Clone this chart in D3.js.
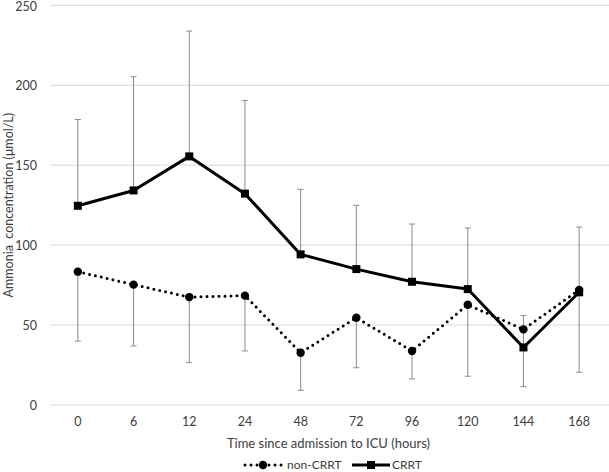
<!DOCTYPE html>
<html><head><meta charset="utf-8">
<script src="https://cdn.jsdelivr.net/npm/d3@7"></script>
<style>body{margin:0;background:#fff}svg{display:block}text{font-family:Lato,"Open Sans",sans-serif;fill:#404040}</style>
</head><body><svg id="c" width="609" height="472"></svg>
<script>
const categories = ["0","6","12","24","48","72","96","120","144","168"];
const crrtMean = [124.6,134.2,155.5,132.2,94.2,85,77.1,72.5,36,70.5];
const crrtUpper = [178.6,205.3,233.9,190.5,134.9,124.9,113.2,110.7,56,111.3];
const nonMean = [83.4,75.3,67.5,68.4,32.7,54.6,33.8,62.7,47.3,72];
const nonLower = [40,36.9,26.5,33.8,9.2,23.3,16.3,18,11.5,20.5];
const yTicks = [0,50,100,150,200,250];

const svg = d3.select("#c");
const L=50,R=607,T=5.3,B=405;
const x = d3.scaleBand().domain(categories).range([L,R]);
const y = d3.scaleLinear().domain([0,250]).range([B,T]);
const cx = c => x(c)+x.bandwidth()/2;

// gridlines
svg.append("g").selectAll("line").data(yTicks).join("line")
  .attr("x1",L).attr("x2",609).attr("y1",d=>y(d)).attr("y2",d=>y(d))
  .attr("stroke","#d9d9d9").attr("stroke-width",1);

// y axis labels
const ya = svg.append("g").attr("transform",`translate(${L},0)`)
  .call(d3.axisLeft(y).tickValues(yTicks).tickSize(0).tickPadding(13));
ya.select(".domain").remove();
ya.selectAll("text").style("font-size","12.5px").attr("fill","#404040").style("font-family","Lato,'Open Sans',sans-serif");
ya.selectAll(".tick").filter(d=>d===250).select("text").attr("dy","0.38em");

// x axis labels
const xa = svg.append("g").attr("transform",`translate(0,${B})`)
  .call(d3.axisBottom(x).tickSize(0).tickPadding(12));
xa.select(".domain").remove();
xa.selectAll("text").style("font-size","12.5px").attr("fill","#404040").style("font-family","Lato,'Open Sans',sans-serif");

// titles
svg.append("text").attr("x",(L+R)/2).attr("y",448).attr("text-anchor","middle")
  .style("font-size","13px").text("Time since admission to ICU (hours)");
svg.append("text").attr("transform",`translate(13,${(T+B)/2}) rotate(-90)`).attr("text-anchor","middle")
  .style("font-size","12.5px").attr("xml:space","preserve").text("Ammonia  concentration (μmol/L)");

// error bars
const eb = svg.append("g").attr("stroke","#8c8c8c").attr("stroke-width",1);
categories.forEach((c,i)=>{
  eb.append("line").attr("x1",cx(c)).attr("x2",cx(c)).attr("y1",y(crrtMean[i])).attr("y2",y(crrtUpper[i]));
  eb.append("line").attr("x1",cx(c)-3).attr("x2",cx(c)+3).attr("y1",y(crrtUpper[i])).attr("y2",y(crrtUpper[i]));
  eb.append("line").attr("x1",cx(c)).attr("x2",cx(c)).attr("y1",y(nonMean[i])).attr("y2",y(nonLower[i]));
  eb.append("line").attr("x1",cx(c)-3).attr("x2",cx(c)+3).attr("y1",y(nonLower[i])).attr("y2",y(nonLower[i]));
});

const line = d3.line().x((d,i)=>cx(categories[i])).y(d=>y(d));
// non-CRRT dotted
svg.append("path").datum(nonMean).attr("d",line).attr("fill","none").attr("stroke","#000")
  .attr("stroke-width",3).attr("stroke-dasharray","0 6").attr("stroke-linecap","round");
svg.append("g").selectAll("circle").data(nonMean).join("circle")
  .attr("cx",(d,i)=>cx(categories[i])).attr("cy",d=>y(d)).attr("r",4.2).attr("fill","#000");
// CRRT solid
svg.append("path").datum(crrtMean).attr("d",line).attr("fill","none").attr("stroke","#000")
  .attr("stroke-width",3).attr("stroke-linejoin","round");
svg.append("g").selectAll("rect").data(crrtMean).join("rect")
  .attr("x",(d,i)=>cx(categories[i])-4).attr("y",d=>y(d)-4).attr("width",8).attr("height",8).attr("fill","#000");

// legend
const lg = svg.append("g");
const ly = 465;
lg.append("line").attr("x1",245).attr("x2",282).attr("y1",ly).attr("y2",ly).attr("stroke","#000")
  .attr("stroke-width",3).attr("stroke-dasharray","0 6").attr("stroke-linecap","round");
lg.append("circle").attr("cx",263).attr("cy",ly).attr("r",4.2).attr("fill","#000");
lg.append("text").attr("x",287).attr("y",ly+4).style("font-size","12px").text("non-CRRT");
lg.append("line").attr("x1",352).attr("x2",390).attr("y1",ly).attr("y2",ly).attr("stroke","#000").attr("stroke-width",3);
lg.append("rect").attr("x",367).attr("y",ly-4).attr("width",8).attr("height",8).attr("fill","#000");
lg.append("text").attr("x",392).attr("y",ly+4).style("font-size","12px").text("CRRT");
</script></body></html>
